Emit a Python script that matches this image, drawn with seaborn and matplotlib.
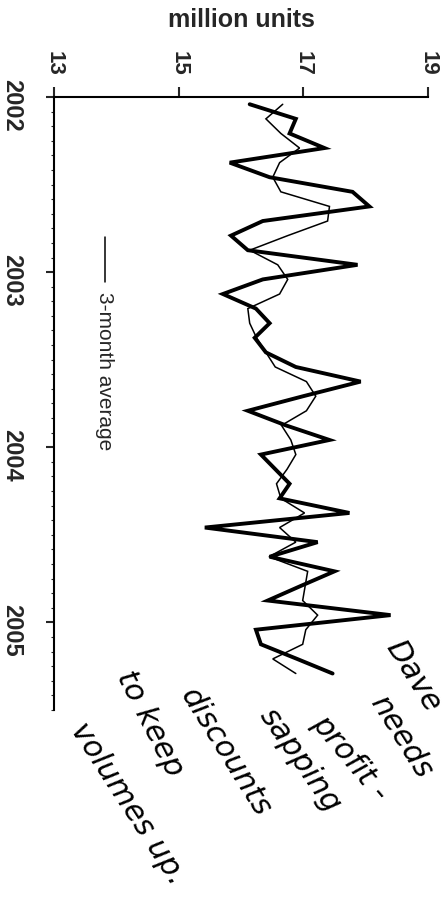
"""
Monthly sales (million units) with 3-month average, 2002-2005.
Chart is drawn sideways: value axis across the top, time running down.
"""

import pandas as pd
import matplotlib
matplotlib.use("Agg")
import matplotlib.pyplot as plt
import seaborn as sns
from matplotlib.ticker import MultipleLocator
from matplotlib.transforms import ScaledTranslation
from matplotlib.lines import Line2D

# -------------------------------
# Data
# -------------------------------
months = pd.period_range("2002-01", "2005-04", freq="M")

monthly = [16.14, 16.88, 16.78, 17.34, 15.82, 16.46, 17.79, 18.06, 16.35, 15.84,
           16.11, 17.87, 16.35, 15.71, 16.24, 16.46, 16.22, 16.40, 16.88, 17.92,
           17.00, 16.11, 16.72, 17.42, 16.32, 16.55, 16.78, 16.62, 17.74, 15.42,
           17.23, 16.46, 17.50, 16.96, 16.43, 18.40, 16.24, 16.32, 16.90, 17.47]

avg3 = [16.67, 16.40, 16.64, 16.94, 16.62, 16.51, 16.64, 17.42, 17.39, 16.75,
        16.14, 16.59, 16.75, 16.62, 16.11, 16.14, 16.25, 16.40, 16.55, 17.05,
        17.20, 17.05, 16.65, 16.80, 16.88, 16.74, 16.57, 16.64, 17.02, 16.62,
        16.88, 16.45, 17.07, 17.03, 16.99, 17.23, 17.04, 16.99, 16.51, 16.88]

value_ticks = [13, 15, 17, 19]
year_ticks = [2002, 2003, 2004, 2005]
legend_label = "3-month average"
unit_label = "million units"
note_lines = ["Dave", "needs", "profit -", "sapping", "discounts", "to keep", "volumes up."]


def main():
    sns.set_style("ticks")
    plt.rcParams["font.family"] = ["Liberation Sans", "DejaVu Sans"]

    # mid-month position in decimal years
    t = [p.year + (p.month - 0.5) / 12 for p in months]
    df = pd.DataFrame({"t": t, "monthly": monthly, "avg3": avg3})

    fig = plt.figure(figsize=(4.45, 9.07), dpi=100)
    ax = fig.add_axes([0.1213, 0.2172, 0.8404, 0.6759])

    sns.lineplot(data=df, x="avg3", y="t", orient="y", estimator=None,
                 color="black", lw=1.1, ax=ax)
    sns.lineplot(data=df, x="monthly", y="t", orient="y", estimator=None,
                 color="black", lw=2.8, ax=ax)
    for ln in ax.get_lines():
        ln.set_solid_joinstyle("miter")

    ax.set_xlim(13, 19)
    ax.set_ylim(2005.5, 2002)
    ax.set_xlabel("")
    ax.set_ylabel("")

    # value axis on top
    ax.xaxis.tick_top()
    ax.set_xticks(value_ticks)
    ax.set_xticklabels([str(v) for v in value_ticks], rotation=-90,
                       fontsize=16, fontweight="bold")
    ax.tick_params(axis="x", direction="out", length=7, width=1.5, pad=8)

    # time axis on the left
    ax.set_yticks(year_ticks)
    ax.set_yticklabels([str(y) for y in year_ticks], rotation=-90,
                       fontsize=17, fontweight="bold", va="center")
    ax.yaxis.set_minor_locator(MultipleLocator(1 / 12))
    ax.tick_params(axis="y", which="major", direction="out", length=6, width=1.5, pad=16)
    ax.tick_params(axis="y", which="minor", direction="out", length=2.5, width=0.8)
    shift = ScaledTranslation(0, -0.08, fig.dpi_scale_trans)
    for lab in ax.get_yticklabels():
        lab.set_transform(lab.get_transform() + shift)

    for side in ["right", "bottom"]:
        ax.spines[side].set_visible(False)
    for side in ["top", "left"]:
        ax.spines[side].set_linewidth(1.5)
        ax.spines[side].set_color("black")

    # legend key drawn sideways
    ax.add_line(Line2D([0.136, 0.136], [0.772, 0.698], transform=ax.transAxes,
                       color="black", lw=1.1))
    ax.text(0.136, 0.682, legend_label, transform=ax.transAxes, rotation=-90,
            ha="center", va="top", fontsize=15)

    fig.text(241 / 445, 1 - 20 / 907, unit_label, ha="center", va="center",
             fontsize=18, fontweight="bold")

    # handwritten note
    note_pos = [(392, 642, 58, "left"), (402, 738, 58, "center"), (350, 758, 50, "center"),
                (300, 760, 55, "center"), (225, 752, 58, "center"), (150, 724, 63, "center"),
                (128, 804, 57, "center")]
    for txt, (px, py, ang, ha) in zip(note_lines, note_pos):
        fig.text(px / 445, 1 - py / 907, txt, rotation=-ang, rotation_mode="anchor",
                 ha=ha, va="center", fontsize=22, style="italic",
                 family="DejaVu Sans", color="black")

    fig.savefig("out.png", dpi=100)


if __name__ == "__main__":
    main()
